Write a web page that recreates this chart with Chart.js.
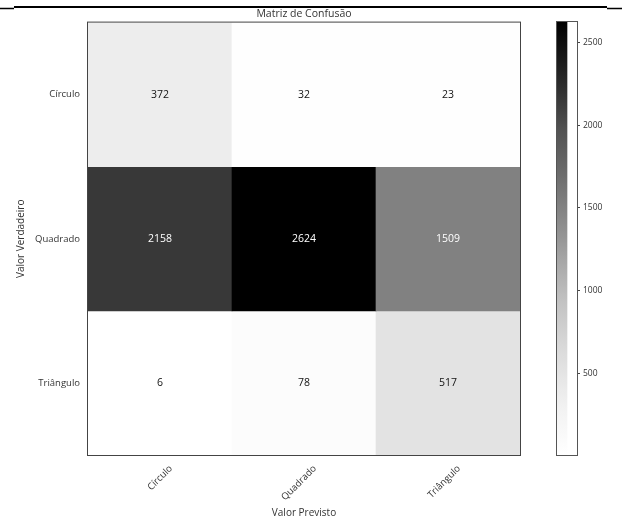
<!DOCTYPE html>
<html>
<head>
<meta charset="utf-8">
<script src="https://cdn.jsdelivr.net/npm/chart.js@4.4.1/dist/chart.umd.min.js"></script>
<style>
  html, body { margin: 0; padding: 0; background: #ffffff; }
  #wrap { position: relative; width: 622px; height: 520px; }
  #wrap canvas { position: absolute; left: 0; top: 0; }
</style>
</head>
<body>
<div id="wrap">
  <canvas id="matrix" width="622" height="520"></canvas>
  <canvas id="colorbar" width="622" height="520"></canvas>
</div>
<script>
// Class names (rows = true value, columns = predicted value)
const classLabels = ['Círculo', 'Quadrado', 'Triângulo'];

// Counts per true class, one entry per predicted class
const rowCirculo = [372, 32, 23];
const rowQuadrado = [2158, 2624, 1509];
const rowTriangulo = [6, 78, 517];

// Colorbar tick values
const colorbarTicks = [500, 1000, 1500, 2000, 2500];

const rows = [rowCirculo, rowQuadrado, rowTriangulo];
const allValues = rows.flat();
const vMin = Math.min(...allValues);
const vMax = Math.max(...allValues);

// "Greys" colour ramp: white -> black
const greyStops = [255, 240, 217, 189, 150, 115, 82, 37, 0];
function greyAt(t) {
  t = Math.max(0, Math.min(1, t));
  const pos = t * (greyStops.length - 1);
  const i = Math.min(Math.floor(pos), greyStops.length - 2);
  const f = pos - i;
  const g = Math.round(greyStops[i] + (greyStops[i + 1] - greyStops[i]) * f);
  return `rgb(${g},${g},${g})`;
}
function colorFor(v) { return greyAt((v - vMin) / (vMax - vMin)); }

const FONT = "'Open Sans', 'DejaVu Sans', sans-serif";
const TEXT = '#333333';

// Each row of the matrix is a dataset of floating bars spanning [r, r+1]
const datasets = rows.map((vals, r) => ({
  label: classLabels[r],
  data: vals.map(() => [r, r + 1]),
  counts: vals,
  backgroundColor: vals.map(colorFor),
  borderWidth: 0,
  barPercentage: 1,
  categoryPercentage: 1,
  grouped: false
}));

const cellText = {
  id: 'cellText',
  afterDatasetsDraw(chart) {
    const ctx = chart.ctx;
    const thresh = vMax / 2;
    ctx.save();
    ctx.font = `10.5px ${FONT}`;
    ctx.textAlign = 'center';
    ctx.textBaseline = 'middle';
    chart.data.datasets.forEach((ds, di) => {
      const meta = chart.getDatasetMeta(di);
      meta.data.forEach((el, i) => {
        const v = ds.counts[i];
        ctx.fillStyle = v > thresh ? '#ffffff' : '#111111';
        ctx.fillText(String(v), el.x, (el.y + el.base) / 2);
      });
    });
    ctx.restore();
  },
  afterDraw(chart) {
    const { ctx, chartArea: a } = chart;
    ctx.save();
    // frame around the matrix
    ctx.strokeStyle = '#444444';
    ctx.lineWidth = 1;
    ctx.strokeRect(a.left - 0.5, a.top - 0.5, a.right - a.left + 1, a.bottom - a.top + 1);
    // page rule above the figure
    ctx.strokeStyle = '#000000';
    ctx.lineWidth = 2;
    ctx.beginPath();
    ctx.moveTo(14, 7); ctx.lineTo(607, 7);
    ctx.stroke();
    ctx.lineWidth = 1.5;
    ctx.beginPath();
    ctx.moveTo(0, 8.5); ctx.lineTo(14, 8.5);
    ctx.moveTo(607, 8.5); ctx.lineTo(622, 8.5);
    ctx.stroke();
    ctx.restore();
  }
};

new Chart(document.getElementById('matrix'), {
  type: 'bar',
  data: { labels: classLabels, datasets },
  options: {
    responsive: false,
    animation: false,
    devicePixelRatio: 1,
    layout: { padding: 0 },
    plugins: {
      legend: { display: false },
      tooltip: { enabled: false },
      title: {
        display: true,
        fullSize: false,
        text: 'Matriz de Confusão',
        color: TEXT,
        font: { family: FONT, size: 10.5, weight: 'normal' },
        padding: { top: 8, bottom: 2 }
      }
    },
    scales: {
      x: {
        type: 'category',
        offset: true,
        grid: { display: false },
        border: { display: false },
        ticks: {
          color: TEXT,
          font: { family: FONT, size: 9.5 },
          minRotation: 45,
          maxRotation: 45,
          padding: 0,
          labelOffset: 11
        },
        title: {
          display: true,
          text: 'Valor Previsto',
          color: TEXT,
          font: { family: FONT, size: 10 },
          padding: { top: 1, bottom: 1 }
        },
        afterFit(scale) { scale.height = 65; }
      },
      y: {
        type: 'linear',
        min: 0,
        max: 3,
        reverse: true,
        grid: { display: false },
        border: { display: false },
        afterBuildTicks(scale) {
          scale.ticks = classLabels.map((_, i) => ({ value: i + 0.5 }));
        },
        ticks: {
          color: TEXT,
          font: { family: FONT, size: 9.5 },
          padding: 0,
          callback: (value, index) => classLabels[index]
        },
        title: {
          display: true,
          text: 'Valor Verdadeiro',
          color: TEXT,
          font: { family: FONT, size: 10 },
          padding: { top: 15, bottom: 2 }
        },
        afterFit(scale) { scale.width = 88; }
      },
      // empty right-hand strip that leaves room for the colour scale
      side: {
        type: 'linear',
        position: 'right',
        display: true,
        grid: { display: false, drawTicks: false },
        border: { display: false },
        ticks: { display: false },
        afterFit(scale) { scale.width = 102; }
      }
    }
  },
  plugins: [cellText]
});

// Colour scale bar, filled with the same ramp along its value axis
const barFrame = {
  id: 'barFrame',
  afterDatasetsDraw(chart) {
    const { ctx, chartArea: a } = chart;
    ctx.save();
    ctx.strokeStyle = '#555555';
    ctx.lineWidth = 1;
    ctx.strokeRect(a.left - 0.5, a.top - 0.5, a.right - a.left + 1, a.bottom - a.top + 1);
    ctx.restore();
  }
};

new Chart(document.getElementById('colorbar'), {
  type: 'bar',
  data: {
    labels: ['escala'],
    datasets: [{
      data: [[vMin, vMax]],
      borderWidth: 0,
      barPercentage: 1,
      categoryPercentage: 1,
      backgroundColor(context) {
        const chart = context.chart;
        const y = chart.scales.y;
        if (!chart.chartArea || !y) return '#888888';
        const g = chart.ctx.createLinearGradient(0, y.getPixelForValue(vMin), 0, y.getPixelForValue(vMax));
        for (let k = 0; k <= 20; k++) {
          g.addColorStop(k / 20, greyAt(k / 20));
        }
        return g;
      }
    }]
  },
  options: {
    responsive: false,
    animation: false,
    devicePixelRatio: 1,
    layout: { padding: { left: 557, right: 0, top: 22, bottom: 65 } },
    plugins: { legend: { display: false }, tooltip: { enabled: false }, title: { display: false } },
    scales: {
      x: { display: false, offset: false },
      y: {
        type: 'linear',
        position: 'right',
        min: vMin,
        max: vMax,
        border: { display: false },
        grid: { display: true, drawOnChartArea: false, drawTicks: true, tickLength: 3, color: '#444444' },
        afterBuildTicks(scale) {
          scale.ticks = colorbarTicks.map(v => ({ value: v }));
        },
        ticks: {
          color: TEXT,
          font: { family: FONT, size: 8.5 },
          padding: 3,
          callback: (value) => String(value)
        },
        afterFit(scale) { scale.width = 45; }
      }
    }
  },
  plugins: [barFrame]
});
</script>
</body>
</html>
